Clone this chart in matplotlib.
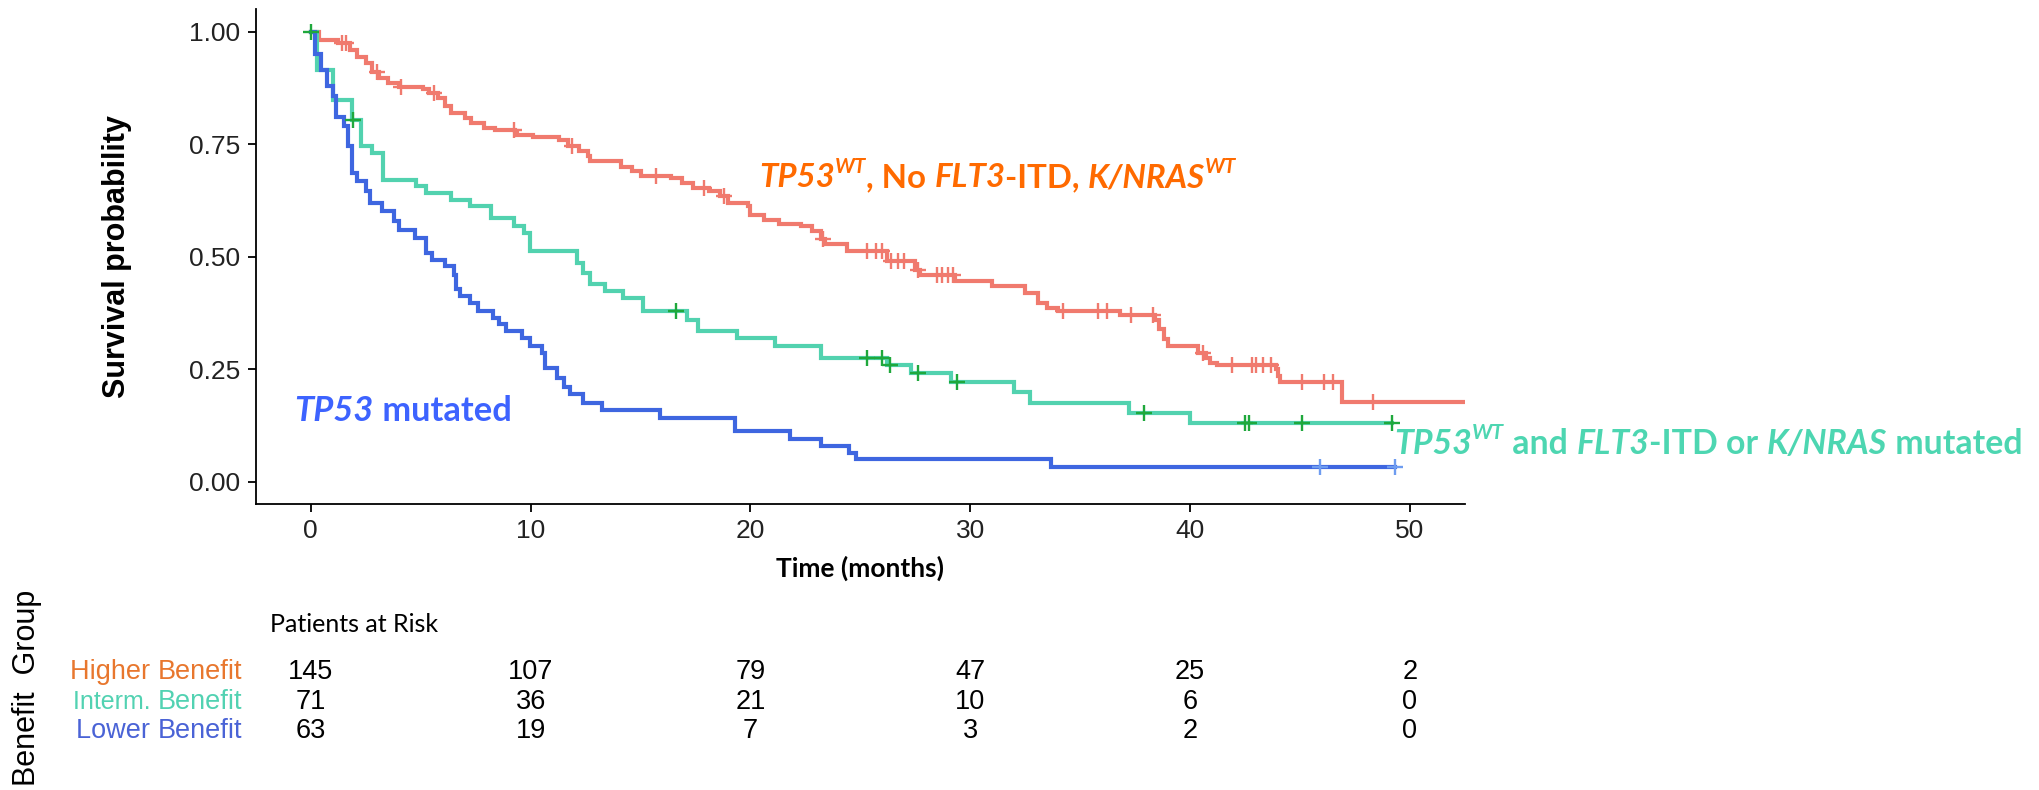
import numpy as np
import matplotlib
matplotlib.use("Agg")
import matplotlib.pyplot as plt
from matplotlib.transforms import blended_transform_factory

# ── Kaplan-Meier step data ────────────────────────────────────────────────────

# Higher benefit: TP53 WT, no FLT3-ITD, K/NRAS WT
times_hi = [0, 0.38, 1.25, 1.8, 2.1, 2.5, 2.8, 3.1, 3.5, 4.0, 5.1, 5.4, 5.8, 6.1,
            6.4, 7.0, 7.3, 7.9, 8.4, 9.3, 9.4, 10.1, 11.3, 11.7, 12.2, 12.6, 12.7,
            14.1, 14.6, 15.0, 16.4, 16.9, 17.4, 18.1, 18.6, 19.0, 19.9, 20.0, 20.6,
            21.3, 22.3, 22.8, 23.2, 23.4, 24.4, 26.2, 27.5, 27.7, 29.3, 31.0, 32.5,
            33.1, 33.5, 34.0, 36.8, 38.4, 38.6, 38.8, 39.0, 40.35, 40.7, 40.9, 41.2,
            43.9, 44.0, 44.1, 46.9]
surv_hi = [1.0, 0.981, 0.974, 0.959, 0.944, 0.930, 0.911, 0.896, 0.885, 0.876, 0.872,
           0.863, 0.852, 0.834, 0.819, 0.808, 0.797, 0.786, 0.782, 0.778, 0.771, 0.766,
           0.760, 0.745, 0.734, 0.723, 0.712, 0.700, 0.689, 0.680, 0.675, 0.663, 0.652,
           0.645, 0.634, 0.619, 0.612, 0.593, 0.582, 0.573, 0.567, 0.556, 0.538, 0.527,
           0.512, 0.490, 0.471, 0.458, 0.445, 0.434, 0.420, 0.397, 0.386, 0.379, 0.371,
           0.360, 0.338, 0.316, 0.301, 0.286, 0.275, 0.264, 0.260, 0.249, 0.234, 0.221,
           0.177]
end_hi = 52.5
censor_hi = [1.4, 1.6, 3.0, 4.1, 5.6, 9.25, 11.9, 15.7, 17.9, 18.8, 23.3, 25.3, 25.7,
             26.0, 26.4, 26.7, 27.0, 27.6, 28.5, 28.7, 29.0, 29.2, 34.2, 35.8, 36.2,
             37.3, 38.3, 40.6, 41.9, 42.8, 43.0, 43.3, 43.7, 45.1, 46.1, 46.5, 48.3]

# Intermediate benefit: TP53 WT and FLT3-ITD or K/NRAS mutated
times_mid = [0, 0.3, 1.0, 1.86, 2.3, 2.8, 3.3, 4.8, 5.25, 6.4, 7.25, 8.2, 9.25, 9.7,
             9.95, 12.1, 12.4, 12.7, 13.4, 14.2, 15.1, 17.1, 17.6, 19.4, 21.1, 23.2,
             26.2, 27.3, 29.1, 32.0, 32.7, 37.2, 40.0]
surv_mid = [1.0, 0.915, 0.848, 0.804, 0.745, 0.730, 0.671, 0.656, 0.641, 0.626, 0.612,
            0.586, 0.567, 0.553, 0.512, 0.486, 0.464, 0.438, 0.423, 0.408, 0.379, 0.360,
            0.334, 0.320, 0.301, 0.275, 0.260, 0.242, 0.221, 0.198, 0.175, 0.153, 0.129]
end_mid = 49.2
censor_mid = [0, 1.9, 16.6, 25.3, 26.0, 26.35, 27.6, 29.4, 37.9, 42.5, 42.7, 45.1, 49.2]

# Lower benefit: TP53 mutated
times_lo = [0, 0.2, 0.47, 0.73, 1.0, 1.17, 1.5, 1.7, 1.86, 2.1, 2.5, 2.7, 3.25, 3.8,
            4.0, 4.75, 5.25, 5.5, 6.1, 6.5, 6.6, 6.8, 7.25, 7.6, 8.3, 8.55, 8.9, 9.6,
            9.95, 10.5, 10.65, 11.2, 11.5, 11.8, 12.4, 13.25, 15.9, 19.3, 21.8, 23.2,
            24.5, 24.8, 33.65]
surv_lo = [1.0, 0.95, 0.915, 0.878, 0.856, 0.811, 0.789, 0.745, 0.686, 0.667, 0.645,
           0.619, 0.601, 0.578, 0.560, 0.541, 0.508, 0.493, 0.479, 0.460, 0.427, 0.412,
           0.397, 0.379, 0.364, 0.349, 0.334, 0.320, 0.301, 0.286, 0.253, 0.231, 0.209,
           0.194, 0.175, 0.159, 0.142, 0.112, 0.095, 0.079, 0.064, 0.049, 0.032]
end_lo = 49.3
censor_lo = [45.9, 49.3]

# Patients at risk table
risk_times = [0, 10, 20, 30, 40, 50]
risk_hi = [145, 107, 79, 47, 25, 2]
risk_mid = [71, 36, 21, 10, 6, 0]
risk_lo = [63, 19, 7, 3, 2, 0]
group_labels = [("Higher", "Benefit"), ("Interm.", "Benefit"), ("Lower", "Benefit")]

# colours
RED, RED_C = "#F07A6E", "#F07A6E"
GRN, GRN_C = "#52D2AF", "#1FA83C"
BLU, BLU_C = "#3E66E0", "#6E9CF0"
LABEL_COLS = ["#E8772E", "#52D2B2", "#4A63D6"]


def surv_at(t, times, surv):
    idx = np.searchsorted(times, t, side="right") - 1
    return np.asarray(surv)[idx]


def rich_text(ax, x, y, parts, color, size):
    """Chain text pieces (text, italic, superscript) on one baseline."""
    base = ax.text(x, y, parts[0][0], color=color, fontsize=size, family="Lato",
                   fontweight="bold", fontstyle="italic" if parts[0][1] else "normal",
                   va="baseline", ha="left")
    prev = base
    for s, ital, sup in parts[1:]:
        style = "italic" if ital else "normal"
        if sup:
            t = ax.annotate(s, xy=(1, 0.52), xycoords=(prev, base), va="bottom",
                            color=color, fontsize=size * 0.62, family="Lato",
                            fontweight="bold", fontstyle=style)
        else:
            t = ax.annotate(s, xy=(1, 0), xycoords=(prev, base), va="bottom",
                            color=color, fontsize=size, family="Lato",
                            fontweight="bold", fontstyle=style)
            base = t
        prev = t


fig = plt.figure(figsize=(20.4, 7.9), dpi=100)
ax = fig.add_axes([0.1254, 0.362, 0.5927, 0.6266])

for times, surv, end, cens, col, ccol in [
        (times_hi, surv_hi, end_hi, censor_hi, RED, RED_C),
        (times_mid, surv_mid, end_mid, censor_mid, GRN, GRN_C),
        (times_lo, surv_lo, end_lo, censor_lo, BLU, BLU_C)]:
    ax.step(list(times) + [end], list(surv) + [surv[-1]], where="post",
            color=col, lw=3.0, solid_joinstyle="miter", zorder=2)
    ax.plot(cens, surv_at(cens, times, surv), ls="none", marker="+",
            ms=12, mew=1.7, color=ccol, zorder=3)

ax.set_xlim(-2.5, 52.5)
ax.set_ylim(-0.05, 1.05)
ax.set_xticks(risk_times)
ax.set_yticks([0, 0.25, 0.5, 0.75, 1.0])
ax.set_yticklabels(["0.00", "0.25", "0.50", "0.75", "1.00"])
for s in ["top", "right"]:
    ax.spines[s].set_visible(False)
for s in ["left", "bottom"]:
    ax.spines[s].set_linewidth(1.3)
ax.tick_params(length=6, width=1.3, pad=5, labelsize=19, labelcolor="#222222")
for lab in ax.get_xticklabels() + ax.get_yticklabels():
    lab.set_family("Liberation Sans")

ax.set_ylabel("Survival probability", fontsize=22, fontweight="bold",
              family="Liberation Sans")
ax.yaxis.set_label_coords(-0.102, 0.5)
ax.set_xlabel("Time (months)", fontsize=19, fontweight="bold", family="Lato")
ax.xaxis.set_label_coords(0.5, -0.105)

# curve annotations
rich_text(ax, 20.4, 0.654,
          [("TP53", True, False), ("WT", True, True), (", No ", False, False),
           ("FLT3", True, False), ("-ITD, ", False, False), ("K/NRAS", True, False),
           ("WT", True, True)], "#FF6A00", 23.8)
rich_text(ax, -0.75, 0.134,
          [("TP53", True, False), (" mutated", False, False)], "#3D63FF", 24.8)
rich_text(ax, 49.3, 0.061,
          [("TP53", True, False), ("WT", True, True), (" and ", False, False),
           ("FLT3", True, False), ("-ITD or ", False, False), ("K/NRAS", True, False),
           (" mutated", False, False)], "#4DD6B1", 24.4)

# patients at risk table
tr = blended_transform_factory(ax.transData, fig.transFigure)
row_y = [0.1494, 0.1114, 0.0747]
for counts, yy in zip([risk_hi, risk_mid, risk_lo], row_y):
    for t, n in zip(risk_times, counts):
        ax.text(t, yy, str(n), transform=tr, ha="center", va="center",
                fontsize=19.5, family="Liberation Sans")

for (first, second), col, yy in zip(group_labels, LABEL_COLS, row_y):
    t2 = fig.text(0.1186, yy, second, color=col, ha="right", va="center",
                  fontsize=19.5, family="Liberation Sans")
    ax.annotate(first + " ", xy=(0, 0.5), xycoords=t2, ha="right", va="center",
                color=col, fontsize=18 if first == "Interm." else 19.5,
                family="Liberation Sans", annotation_clip=False)

fig.text(0.1324, 0.2101, "Patients at Risk", ha="left", va="center", fontsize=18,
         family="Lato")
fig.text(0.0132, 0.129, "Benefit  Group", rotation=90, ha="center", va="center",
         fontsize=22, family="Liberation Sans")

fig.savefig("out.png", dpi=100)
